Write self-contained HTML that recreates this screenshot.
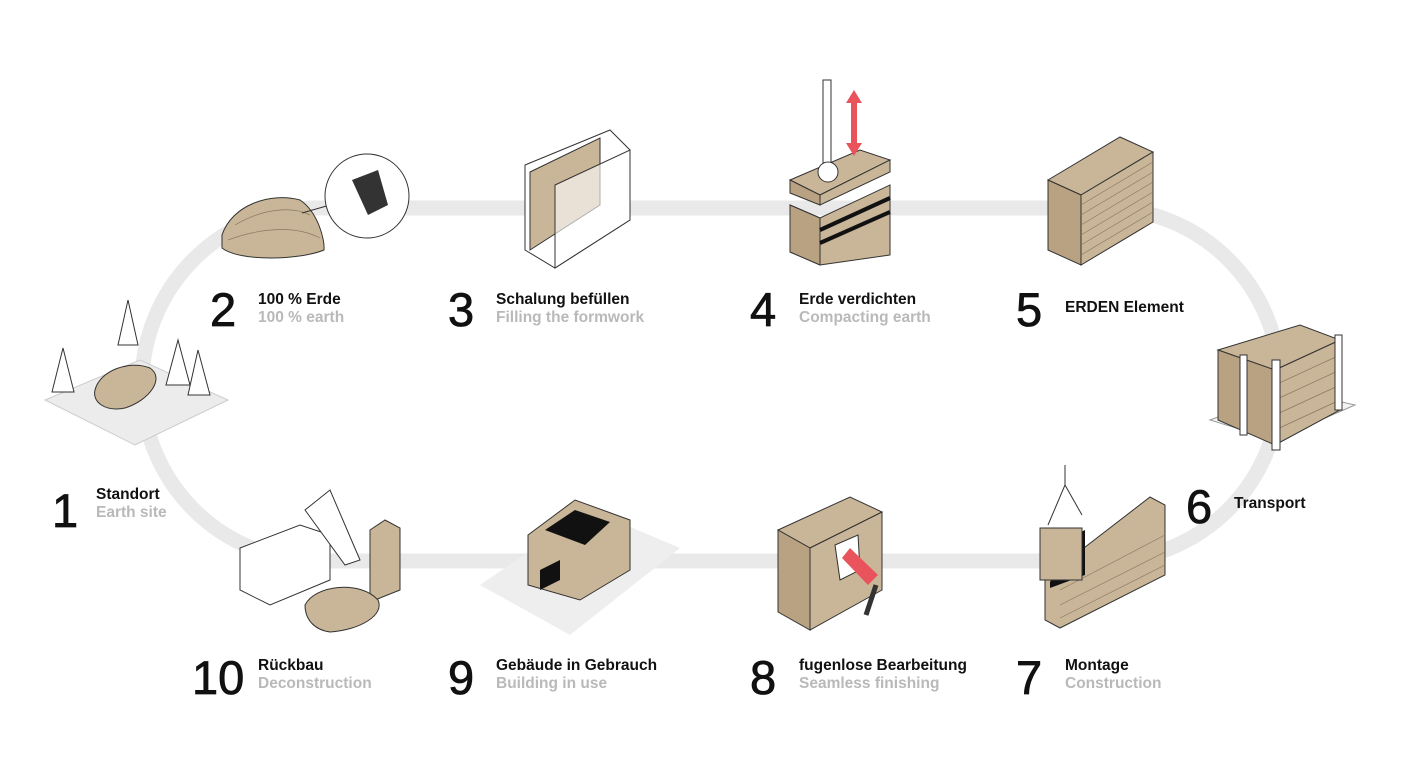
<!DOCTYPE html>
<html><head><meta charset="utf-8"><style>
html,body{margin:0;padding:0;background:#fff;width:1410px;height:769px;overflow:hidden}
svg{display:block}
.n{font-family:"Liberation Sans",sans-serif;font-size:47px;fill:#111;stroke:#111;stroke-width:.8}
.t{font-family:"Liberation Sans",sans-serif;font-size:15.5px;fill:#111;font-weight:bold}
.s{font-family:"Liberation Sans",sans-serif;font-size:15.5px;fill:#b9b9b9;font-weight:bold}
.e{fill:#c9b597;stroke:#333;stroke-width:1}
.d{fill:#b9a282;stroke:#333;stroke-width:1}
.w{fill:#fff;stroke:#333;stroke-width:1}
.l{stroke:#8a7a63;stroke-width:.7;fill:none}
</style></head><body>
<svg width="1410" height="769" viewBox="0 0 1410 769">
<rect x="142" y="208" width="1138" height="353" rx="176" ry="176" fill="none" stroke="#e9e9e9" stroke-width="15"/>

<!-- 1 site -->
<polygon points="45,400 140,360 228,400 135,445" fill="#ececec" stroke="#ccc"/>
<path d="M95,390 C100,370 130,360 150,368 C165,378 150,400 125,408 C105,412 92,402 95,390Z" class="e"/>
<polygon points="128,300 118,345 138,345" class="w"/><polygon points="63,348 52,392 74,392" class="w"/>
<polygon points="178,340 166,385 190,385" class="w"/><polygon points="198,350 188,395 210,395" class="w"/>

<!-- 2 earth -->
<path d="M222,235 C232,205 270,192 300,200 C318,212 325,240 324,250 C300,260 240,262 222,248Z" class="e"/>
<path d="M235,225 C260,210 290,205 310,215 M228,240 C260,228 295,225 320,238" class="l"/>
<line x1="302" y1="213" x2="330" y2="205" stroke="#333"/>
<circle cx="367" cy="196" r="42" class="w"/>
<path d="M352,180 L378,170 L388,205 L368,215Z" fill="#333"/>

<!-- 3 formwork -->
<polygon points="525,165 610,130 630,150 630,220 555,268 525,250" class="w"/>
<polygon points="530,172 600,138 600,205 530,250" class="e"/>
<polygon points="555,185 630,150 630,220 555,268" fill="#fff" fill-opacity=".6" stroke="#333"/>

<!-- 4 compacting -->
<polygon points="790,180 860,150 890,160 820,195" class="e"/>
<polygon points="790,180 820,195 820,205 790,193" class="d"/><polygon points="820,195 890,160 890,172 820,205" class="e"/>
<polygon points="790,205 820,218 890,185 890,255 820,265 790,252" class="e"/>
<polygon points="790,205 820,218 820,265 790,252" class="d"/>
<line x1="820" y1="230" x2="890" y2="198" stroke="#111" stroke-width="4"/>
<line x1="820" y1="243" x2="890" y2="212" stroke="#111" stroke-width="4"/>
<rect x="823" y="80" width="8" height="90" class="w"/><circle cx="828" cy="172" r="10" class="w"/>
<polygon points="854,90 846,103 851,103 851,143 846,143 854,156 862,143 857,143 857,103 862,103" fill="#e8535c"/>

<!-- 5 element -->
<polygon points="1048,180 1120,137 1153,152 1081,195" class="e"/>
<polygon points="1048,180 1081,195 1081,265 1048,250" class="d"/>
<polygon points="1081,195 1153,152 1153,222 1081,265" class="e"/>
<path d="M1081,205 L1153,162 M1081,215 L1153,172 M1081,225 L1153,182 M1081,235 L1153,192 M1081,245 L1153,202 M1081,255 L1153,212" class="l"/>

<!-- 6 transport -->
<polygon points="1210,420 1290,390 1355,405 1275,440" fill="#f3f3f3" stroke="#999"/>
<polygon points="1218,350 1300,325 1340,340 1275,370" class="e"/>
<polygon points="1218,350 1275,370 1275,445 1218,420" class="d"/>
<polygon points="1275,370 1340,340 1340,410 1275,445" class="e"/>
<path d="M1275,385 L1340,355 M1275,400 L1340,370 M1275,415 L1340,385 M1275,430 L1340,400" class="l"/>
<rect x="1272" y="360" width="8" height="90" class="w"/><rect x="1240" y="355" width="7" height="80" class="w"/><rect x="1335" y="335" width="7" height="75" class="w"/>

<!-- 7 montage -->
<polygon points="1045,578 1150,497 1165,505 1165,575 1060,628 1045,620" class="e"/>
<path d="M1060,590 L1165,535 M1060,605 L1165,552 M1060,618 L1165,565" class="l"/>
<polygon points="1075,535 1085,530 1085,575 1050,588 1050,582" fill="#111"/>
<rect x="1040" y="528" width="42" height="52" class="e"/>
<line x1="1065" y1="465" x2="1065" y2="485" stroke="#333"/><line x1="1065" y1="485" x2="1048" y2="525" stroke="#333"/><line x1="1065" y1="485" x2="1082" y2="515" stroke="#333"/>

<!-- 8 finishing -->
<polygon points="778,530 850,497 882,512 810,548" class="e"/>
<polygon points="778,530 810,548 810,630 778,612" class="d"/>
<polygon points="810,548 882,512 882,590 810,630" class="e"/>
<polygon points="835,545 858,535 860,570 840,580" fill="#fff" stroke="#333"/>
<path d="M850,548 L878,575 L868,585 L842,558Z" fill="#e8535c"/>
<line x1="876" y1="585" x2="866" y2="615" stroke="#333" stroke-width="5"/>

<!-- 9 building -->
<polygon points="480,585 590,510 680,548 570,635" fill="#eeeeee"/>
<polygon points="528,535 575,500 630,520 630,570 580,600 528,585" class="e"/>
<polygon points="545,530 575,510 610,522 585,545" fill="#111"/>
<polygon points="540,570 560,560 560,580 540,590" fill="#111"/>

<!-- 10 deconstruction -->
<polygon points="240,548 300,525 330,535 330,580 270,605 240,590" class="w"/>
<polygon points="305,510 330,490 360,560 345,565" class="w"/>
<polygon points="370,530 385,520 400,528 400,590 375,600 370,595" class="e"/>
<path d="M305,605 C315,585 360,580 378,600 C385,615 360,630 330,632 C315,630 305,620 305,605Z" class="e"/>

<!-- labels -->
<text class="n" x="52" y="527">1</text><text class="t" x="96" y="499">Standort</text><text class="s" x="96" y="517">Earth site</text>
<text class="n" x="210" y="326">2</text><text class="t" x="258" y="304">100 % Erde</text><text class="s" x="258" y="322">100 % earth</text>
<text class="n" x="448" y="326">3</text><text class="t" x="496" y="304">Schalung befüllen</text><text class="s" x="496" y="322">Filling the formwork</text>
<text class="n" x="750" y="326">4</text><text class="t" x="799" y="304">Erde verdichten</text><text class="s" x="799" y="322">Compacting earth</text>
<text class="n" x="1016" y="326">5</text><text class="t" x="1065" y="312">ERDEN Element</text>
<text class="n" x="1186" y="523">6</text><text class="t" x="1234" y="508">Transport</text>
<text class="n" x="1016" y="694">7</text><text class="t" x="1065" y="670">Montage</text><text class="s" x="1065" y="688">Construction</text>
<text class="n" x="750" y="694">8</text><text class="t" x="799" y="670">fugenlose Bearbeitung</text><text class="s" x="799" y="688">Seamless finishing</text>
<text class="n" x="448" y="694">9</text><text class="t" x="496" y="670">Gebäude in Gebrauch</text><text class="s" x="496" y="688">Building in use</text>
<text class="n" x="192" y="694">10</text><text class="t" x="258" y="670">Rückbau</text><text class="s" x="258" y="688">Deconstruction</text>
</svg>
</body></html>
